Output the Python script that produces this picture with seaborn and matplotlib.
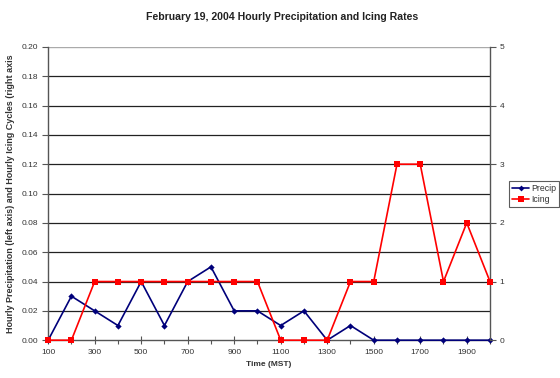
import matplotlib
matplotlib.use("Agg")
import matplotlib.pyplot as plt
from matplotlib.lines import Line2D
from matplotlib.ticker import MultipleLocator
import seaborn as sns
import pandas as pd

hours = [100, 200, 300, 400, 500, 600, 700, 800, 900, 1000,
         1100, 1200, 1300, 1400, 1500, 1600, 1700, 1800, 1900, 2000]
precip = [0.00, 0.03, 0.02, 0.01, 0.04, 0.01, 0.04, 0.05, 0.02, 0.02,
          0.01, 0.02, 0.00, 0.01, 0.00, 0.00, 0.00, 0.00, 0.00, 0.00]
icing = [0, 0, 1, 1, 1, 1, 1, 1, 1, 1,
         0, 0, 0, 1, 1, 3, 3, 1, 2, 1]

df = pd.DataFrame({"Time": hours, "Precip": precip, "Icing": icing})

sns.set_theme(style="white")
plt.rcParams["font.family"] = ["Liberation Sans", "DejaVu Sans"]

fig = plt.figure(figsize=(5.6, 3.78), dpi=100)
ax = fig.add_axes([0.086, 0.10, 0.789, 0.776])
ax2 = ax.twinx()

navy = "#00007a"
red = "#ff0000"
txt = "#333333"

sns.lineplot(data=df, x="Time", y="Precip", ax=ax, color=navy, lw=1.2,
             marker="D", markersize=3.2, markeredgewidth=0, clip_on=False, zorder=4)
sns.lineplot(data=df, x="Time", y="Icing", ax=ax2, color=red, lw=1.2,
             marker="s", markersize=5, markeredgewidth=0, clip_on=False, zorder=5)

ax.set_xlim(100, 2000)
ax.set_ylim(0, 0.20)
ax2.set_ylim(0, 5)
ax.set_yticks([i * 0.02 for i in range(11)])
ax.set_yticklabels([f"{i * 0.02:.2f}" for i in range(11)])
ax2.set_yticks(range(6))
ax.set_xticks(range(100, 2001, 200))
ax.xaxis.set_minor_locator(MultipleLocator(100))

for y in [i * 0.02 for i in range(1, 10)]:
    ax.axhline(y, color="#222222", lw=0.9, zorder=1)
ax.axhline(0.20, color="#aaaaaa", lw=1.0, zorder=1)

for a in (ax, ax2):
    for s in a.spines.values():
        s.set_visible(False)
ax.spines["left"].set_visible(True)
ax.spines["bottom"].set_visible(True)
ax2.spines["right"].set_visible(True)
for s in (ax.spines["left"], ax.spines["bottom"], ax2.spines["right"]):
    s.set_color("#555555")
    s.set_linewidth(1.0)

ax.tick_params(axis="y", direction="out", length=4, width=0.8, color="#555555",
               labelsize=6, labelcolor=txt, pad=3, left=True)
ax.tick_params(axis="x", which="major", direction="inout", length=6, width=0.8,
               color="#555555", labelsize=6, labelcolor=txt, pad=3, bottom=True)
ax.tick_params(axis="x", which="minor", direction="out", length=3, width=0.8,
               color="#555555", bottom=True)
ax2.tick_params(axis="y", direction="out", length=4, width=0.8, color="#555555",
                labelsize=6, labelcolor=txt, pad=3, right=True)

ax.set_xlabel("Time (MST)", fontsize=6, fontweight="bold", color=txt, labelpad=4)
ax.set_ylabel("Hourly Precipitation (left axis) and Hourly Icing Cycles (right axis",
              fontsize=6.5, fontweight="bold", color=txt, labelpad=5)
ax2.set_ylabel("")
fig.text(0.504, 1 - 17 / 378, "February 19, 2004 Hourly Precipitation and Icing Rates",
         fontsize=7.6, fontweight="bold", color="#222222", ha="center", va="center")

handles = [Line2D([], [], color=navy, lw=1.2, marker="D", markersize=3, markeredgewidth=0),
           Line2D([], [], color=red, lw=1.2, marker="s", markersize=4, markeredgewidth=0)]
leg = fig.legend(handles, ["Precip", "Icing"], loc="upper right",
                 bbox_to_anchor=(0.998, 0.522), fontsize=6.3, frameon=True,
                 fancybox=False, edgecolor="#333333", handlelength=1.9,
                 borderpad=0.35, labelspacing=0.3, handletextpad=0.2,
                 borderaxespad=0.0)
leg.get_frame().set_linewidth(0.8)
for t in leg.get_texts():
    t.set_color(txt)

fig.savefig("out.png", dpi=100)
